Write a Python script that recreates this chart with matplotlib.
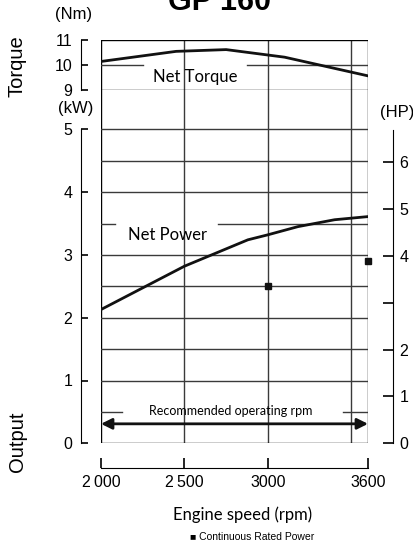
import numpy as np
import matplotlib.pyplot as plt

# values
torque_rpm = [2000, 2450, 2750, 3100, 3600]
torque_nm = [10.13, 10.53, 10.6, 10.3, 9.56]
power_rpm = [2000, 2500, 2880, 3000, 3180, 3400, 3600]
power_kw = [2.13, 2.82, 3.24, 3.32, 3.45, 3.56, 3.61]
rated_rpm = [3000, 3600]
rated_kw = [2.5, 2.9]
rpm_ticks = [2000, 2500, 3000, 3600]
rpm_labels = ["2\u2009000", "2\u2009500", "3000", "3600"]
kw_ticks = [0, 1, 2, 3, 4, 5]
nm_ticks = [9, 10, 11]
hp_ticks = [0, 1, 2, 3, 4, 5, 6]
hp_labels = ["0", "1", "2", "", "4", "5", "6"]
KW_PER_HP = 0.7457

W, H = 413, 546
fig = plt.figure(figsize=(W / 100, H / 100), dpi=100)
plt.rcParams['font.family'] = ['Liberation Sans', 'DejaVu Sans']
lato = ['Lato', 'DejaVu Sans']
grid_c = '#3a3a3a'

def fx(px):
    return px / W

def fy(py):
    return 1 - py / H

# power panel (kW)
ax = fig.add_axes([fx(101), fy(443.3), fx(368) - fx(101), fy(90) - fy(443.3)])
ax.set_xlim(2000, 3600)
ax.set_ylim(0, (443.3 - 90) / 62.8)

# torque panel (Nm)
axt = fig.add_axes([fx(101), fy(90), fx(368) - fx(101), fy(39.5) - fy(90)])
axt.set_xlim(2000, 3600)
axt.set_ylim(9, 9 + 50.5 / 25.25)

for a in (ax, axt):
    a.patch.set_alpha(0)
    for s in ['top', 'right']:
        a.spines[s].set_visible(False)
    a.spines['left'].set_position(('outward', 14.6))
    # frame and vertical grid
    for x in [2000, 2500, 3000, 3500, 3600]:
        a.axvline(x, color='k' if x in (2000, 3600) else grid_c, lw=1.0, zorder=1)

# horizontal grid, power panel
for y in np.arange(0.5, 5.01, 0.5):
    if abs(y - 3.5) < 1e-6:
        ax.axhline(y, 0, 0.052, color=grid_c, lw=1.0)
        ax.axhline(y, 0.44, 1, color=grid_c, lw=1.0)
    elif abs(y - 0.5) < 1e-6:
        ax.axhline(y, 0, 0.078, color=grid_c, lw=1.0)
        ax.axhline(y, 0.907, 1, color=grid_c, lw=1.0)
    else:
        ax.axhline(y, color=grid_c, lw=1.0)
ax.axhline(0, color='k', lw=1.0)

# horizontal grid, torque panel
axt.axhline(10, 0, 0.157, color=grid_c, lw=1.0)
axt.axhline(10, 0.547, 1, color=grid_c, lw=1.0)
axt.axhline(9, color='k', lw=1.0)
axt.axhline(axt.get_ylim()[1], color='k', lw=1.0)

# curves
axt.plot(torque_rpm, torque_nm, color='#111111', lw=2.0, zorder=3)
ax.plot(power_rpm, power_kw, color='#111111', lw=2.0, zorder=3)
ax.plot(rated_rpm, rated_kw, 's', color='#111111', ms=4, zorder=4, clip_on=False)

# left axes
ax.spines['left'].set_bounds(0, 5)
ax.set_yticks(kw_ticks)
ax.tick_params(axis='y', direction='in', length=5, width=1.2, pad=6, labelsize=11.5)
axt.spines['left'].set_bounds(9, 11)
axt.set_yticks(nm_ticks)
axt.tick_params(axis='y', direction='in', length=5, width=1.2, pad=6, labelsize=11.5)
axt.spines['bottom'].set_visible(False)
axt.set_xticks([])

# x axis below
ax.spines['bottom'].set_position(('outward', 18))
ax.spines['bottom'].set_bounds(2000, 3600)
ax.set_xticks(rpm_ticks)
ax.set_xticklabels(rpm_labels)
ax.tick_params(axis='x', direction='in', length=7, width=1.2, pad=5, labelsize=11.5)

# HP axis
axh = ax.twinx()
axh.set_ylim(ax.get_ylim()[0] / KW_PER_HP, ax.get_ylim()[1] / KW_PER_HP)
for s in ['top', 'left', 'bottom']:
    axh.spines[s].set_visible(False)
axh.spines['right'].set_position(('outward', 17.8))
axh.spines['right'].set_bounds(0, 6.7)
axh.set_yticks(hp_ticks)
axh.set_yticklabels(hp_labels)
axh.tick_params(axis='y', direction='in', length=7, width=1.2, pad=5, labelsize=11.5)

# labels inside
axt.text(2564, 9.5, "Net Torque", family=lato, fontsize=12, ha='center', va='center')
ax.text(2396, 3.32, "Net Power", family=lato, fontsize=12, ha='center', va='center')
ax.annotate("", xy=(2000, 0.31), xytext=(3600, 0.31),
            arrowprops=dict(arrowstyle='<|-|>', color='#111111', lw=2.0,
                            mutation_scale=16, shrinkA=0, shrinkB=0))
ax.text(2780, 0.52, "Recommended operating rpm", family=lato, fontsize=9,
        ha='center', va='center')

# unit labels and side labels
fig.text(fx(74), fy(15), "(Nm)", fontsize=12, ha='center', va='center')
fig.text(fx(76), fy(108), "(kW)", fontsize=12, ha='center', va='center')
fig.text(fx(397), fy(113), "(HP)", fontsize=12, ha='center', va='center')
fig.text(fx(17), fy(66), "Torque", fontsize=14.5, rotation=90, ha='center', va='center')
fig.text(fx(17), fy(442), "Output", fontsize=14.5, rotation=90, ha='center', va='center')

fig.text(fx(243), fy(515), "Engine speed (rpm)", family=lato, fontsize=12,
         ha='center', va='center')
fig.text(fx(252), fy(537), "\u25a0 Continuous Rated Power", fontsize=7.5,
         ha='center', va='center')
# title sits mostly above the top edge, as in the source image
fig.text(fx(220), fy(10.5), "GP 160", fontsize=22, fontweight='bold',
         ha='center', va='baseline')

fig.savefig("out.png", dpi=100)
